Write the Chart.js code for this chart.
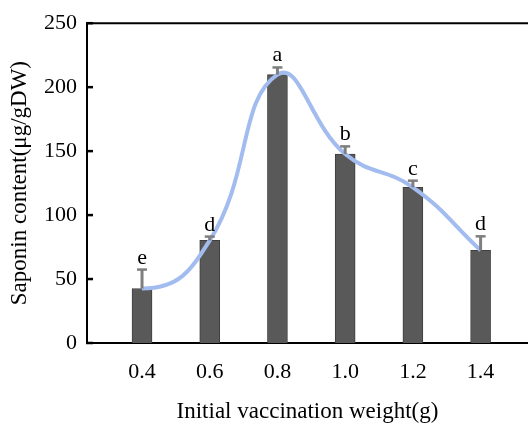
<!DOCTYPE html>
<html>
<head>
<meta charset="utf-8">
<script src="https://cdn.jsdelivr.net/npm/chart.js@4/dist/chart.umd.min.js"></script>
<style>
  html, body { margin: 0; padding: 0; background: #ffffff; }
  #wrap { width: 528px; height: 423px; position: relative; }
</style>
</head>
<body>
<div id="wrap"><canvas id="chart"></canvas></div>
<script>
// Initial vaccination weight (g) and measured saponin content
const weights = [0.4, 0.6, 0.8, 1.0, 1.2, 1.4];
const weightLabels = ['0.4', '0.6', '0.8', '1.0', '1.2', '1.4'];
const saponin = [42.6, 80.2, 209.8, 147.7, 121.7, 72.4];
const saponinSD = [14.8, 3, 5.6, 6.0, 5.2, 11.0];
const groupLetters = ['e', 'd', 'a', 'b', 'c', 'd'];
const yTicks = [0, 50, 100, 150, 200, 250];

const FONT = '"Liberation Serif", "DejaVu Serif", serif';

const points = weights.map((w, i) => ({ x: w, y: saponin[i] }));

// Smoothed trend line leaves its first point horizontally
const flatStart = {
  id: 'flatStart',
  afterDatasetsUpdate(chart) {
    const meta = chart.getDatasetMeta(0);
    const line = meta.dataset;
    if (!line || meta.data.length < 2) return;
    line.updateControlPoints(chart.chartArea, 'x');
    const p0 = meta.data[0], p1 = meta.data[1];
    p0.cp2x = p0.x + (p1.x - p0.x) * 0.55;
    p0.cp2y = p0.y;
  }
};

// Draws the frame line on top, inward y tick marks, SD whiskers and group letters
const decorations = {
  id: 'decorations',
  afterDatasetsDraw(chart) {
    const { ctx, chartArea, scales } = chart;
    const ys = scales.y;
    ctx.save();
    ctx.strokeStyle = '#000';
    ctx.lineWidth = 2;
    ctx.beginPath();
    ctx.moveTo(chartArea.left - 1, chartArea.top);
    ctx.lineTo(chartArea.right, chartArea.top);
    ctx.stroke();
    ctx.lineWidth = 2.5;
    yTicks.forEach(v => {
      const py = ys.getPixelForValue(v);
      ctx.beginPath();
      ctx.moveTo(chartArea.left - 1, py);
      ctx.lineTo(chartArea.left + 6, py);
      ctx.stroke();
    });
    ctx.restore();
  },
  afterDraw(chart) {
    const { ctx, scales } = chart;
    const xs = scales.x, ys = scales.y;
    ctx.save();
    weights.forEach((w, i) => {
      const px = xs.getPixelForValue(w);
      const top = ys.getPixelForValue(saponin[i]);
      const cap = ys.getPixelForValue(saponin[i] + saponinSD[i]);
      ctx.strokeStyle = '#7f7f7f';
      ctx.lineWidth = 3;
      ctx.beginPath();
      ctx.moveTo(px, top);
      ctx.lineTo(px, cap);
      ctx.stroke();
      ctx.lineWidth = 2.5;
      ctx.beginPath();
      ctx.moveTo(px - 5, cap);
      ctx.lineTo(px + 5, cap);
      ctx.stroke();
      ctx.fillStyle = '#000';
      ctx.font = '22px ' + FONT;
      ctx.textAlign = 'center';
      ctx.textBaseline = 'alphabetic';
      ctx.fillText(groupLetters[i], px, cap - 6);
    });
    ctx.restore();
  }
};

new Chart(document.getElementById('chart'), {
  data: {
    datasets: [
      {
        type: 'line',
        data: points,
        borderColor: '#a3bcef',
        borderWidth: 4,
        tension: 0.45,
        pointRadius: 0,
        fill: false,
        order: 0
      },
      {
        type: 'bar',
        data: points,
        backgroundColor: '#595959',
        borderColor: '#3f3f3f',
        borderWidth: 1,
        barThickness: 20,
        order: 1
      }
    ]
  },
  options: {
    responsive: true,
    maintainAspectRatio: false,
    animation: false,
    layout: { padding: { top: 22, right: 0, bottom: 0, left: 0 } },
    plugins: { legend: { display: false }, tooltip: { enabled: false } },
    scales: {
      x: {
        type: 'linear',
        offset: false,
        min: 0.2375,
        max: 1.54,
        afterBuildTicks(scale) {
          scale.ticks = weights.map(v => ({ value: v }));
        },
        afterFit(scale) { scale.height = 80; },
        grid: { display: false, drawTicks: false, offset: false },
        border: { display: true, color: '#000', width: 2 },
        ticks: {
          padding: 16,
          color: '#000',
          font: { family: FONT, size: 22 },
          maxRotation: 0,
          autoSkip: false,
          callback: (v) => weightLabels[weights.indexOf(v)] ?? ''
        },
        title: {
          display: true,
          text: 'Initial vaccination weight(g)',
          color: '#000',
          font: { family: FONT, size: 23 },
          padding: { top: 0, bottom: -3 }
        }
      },
      y: {
        min: 0,
        max: 250,
        afterBuildTicks(scale) {
          scale.ticks = yTicks.map(v => ({ value: v }));
        },
        afterFit(scale) { scale.width = 87; },
        grid: { display: false, drawTicks: false },
        border: { display: true, color: '#000', width: 2 },
        ticks: {
          padding: 10,
          color: '#000',
          font: { family: FONT, size: 22 }
        },
        title: {
          display: true,
          text: 'Saponin content(μg/gDW)',
          color: '#000',
          font: { family: FONT, size: 23 },
          padding: { top: 6, bottom: 0 }
        }
      }
    }
  },
  plugins: [flatStart, decorations]
});
</script>
</body>
</html>
